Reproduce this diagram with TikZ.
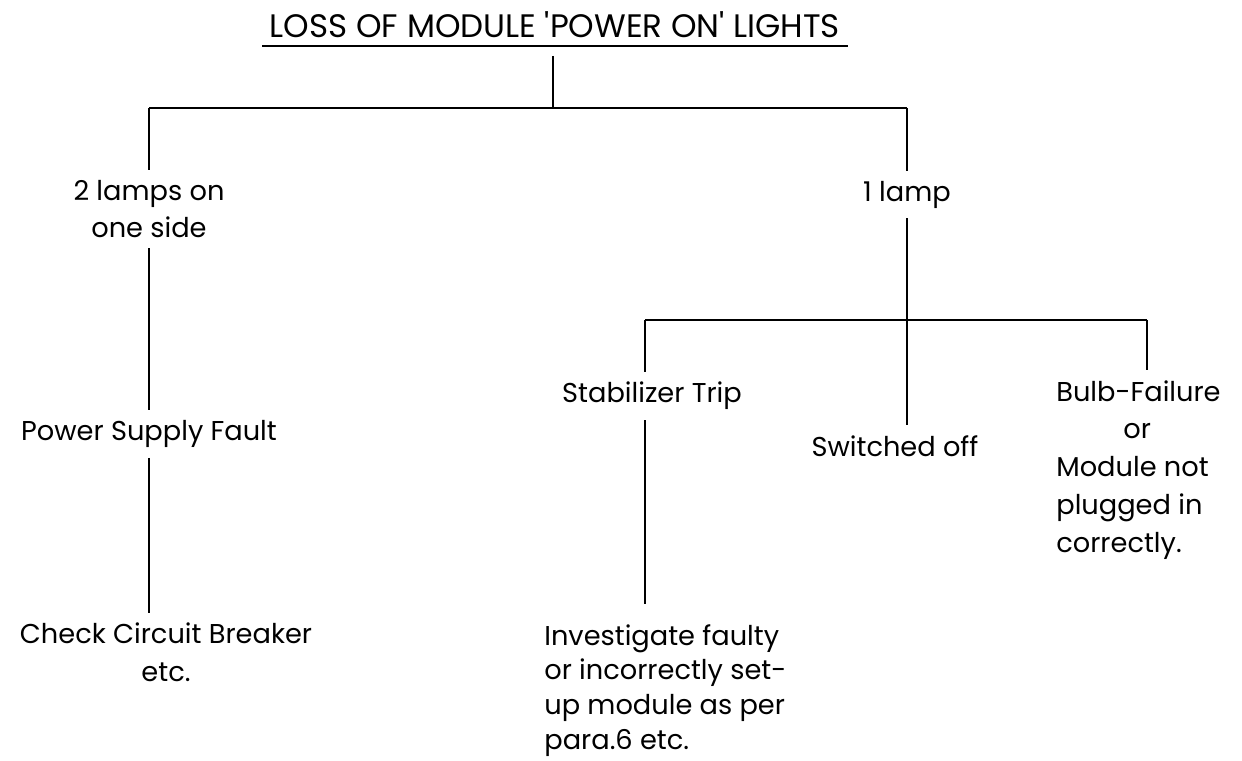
\documentclass[tikz,border=0pt]{standalone}
\usepackage{fontspec}
\newfontfamily\chartfont{Poppins}
\usetikzlibrary{positioning}

\begin{document}
\begin{tikzpicture}[
    every node/.style={font=\chartfont\fontsize{15.5}{21.5}\selectfont},
    item/.style={align=center, inner xsep=0pt, inner ysep=0.2cm},
    note/.style={align=left, inner xsep=0pt, inner ysep=0.2cm},
    wire/.style={line width=1.5pt},
]
\useasboundingbox (0,0) rectangle (24.84,15.20);

% ============================================================ title
\node[inner sep=0.15cm, font=\chartfont\fontsize{18.5}{22}\selectfont] (title) at (11.10,14.70)
    {LOSS OF MODULE \textquotesingle POWER ON\textquotesingle\ LIGHTS};
\draw[wire] (title.south west) -- (title.south east);

\coordinate (split) at (11.06,13.04);
\coordinate (lbar) at (2.98,13.04);
\coordinate (rbar) at (18.14,13.04);
\draw[wire] ([yshift=-0.2cm]title.south -| split) -- (split);
\draw[wire] (lbar) -- (rbar);

% ============================================================ 2 lamps
\node[item] (lamps2) at (2.98,11.02) {2 lamps on\\one side};
\node[item] (psu) at (2.98,6.52) {Power Supply Fault};
\node[item] (ccb) at (3.32,2.15) {Check Circuit Breaker\\etc.};
\draw[wire] (lbar) -- (lamps2.north);
\draw[wire] (lamps2.south) -- (psu.north);
\draw[wire] (psu.south) -- (psu.south |- ccb.north);

% ============================================================ 1 lamp
\node[item] (lamp1) at (18.14,11.31) {1 lamp};
\draw[wire] (rbar) -- (lamp1.north);

\coordinate (sleft) at (12.90,8.80);
\coordinate (sright) at (22.94,8.80);
\draw[wire] (sleft) -- (sright);

\node[item] (stab) at (13.04,7.28) {Stabilizer Trip};
\node[item] (switched) at (17.90,6.28) {Switched off};
\node[note, anchor=north west] (bulb) at (21.12,7.80)
    {Bulb-Failure\\\hspace*{1.34cm}or\\Module not\\plugged in\\correctly.};
\node[note, anchor=north west, inner ysep=0.4cm,
      font=\chartfont\fontsize{15.5}{19.8}\selectfont] (invest) at (10.88,3.12)
    {Investigate faulty\\or incorrectly set-\\up module as per\\para.6 etc.};

\draw[wire] (lamp1.south) -- (lamp1.south |- switched.north);
\draw[wire] (sleft) -- (sleft |- stab.north);
\draw[wire] (sright) -- (sright |- bulb.north);
\draw[wire] (stab.south -| sleft) -- (sleft |- invest.north);

\end{tikzpicture}
\end{document}
